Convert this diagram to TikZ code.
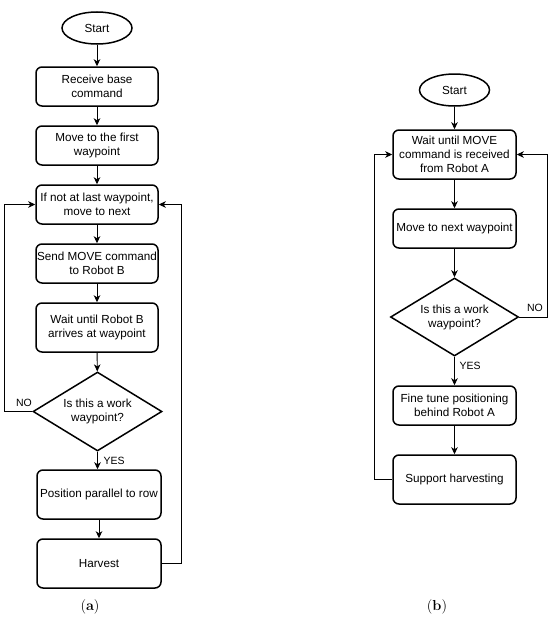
\documentclass[tikz,border=0pt]{standalone}
\usepackage{fontspec}
\setsansfont{Liberation Sans}
\usetikzlibrary{shapes.geometric,arrows.meta}

\begin{document}
\begin{tikzpicture}[x=1pt,y=-1pt,
    every node/.style={font=\sffamily\fontsize{11.7}{14}\selectfont},
    box/.style={draw,rounded corners=6pt,line width=1.5pt,align=center,
      minimum width=122pt,minimum height=39pt,inner sep=1pt},
    tallbox/.style={box,minimum height=49pt},
    startnode/.style={draw,ellipse,line width=1.5pt,minimum width=70pt,
      minimum height=32pt,inner sep=0pt},
    decision/.style={draw,diamond,line width=1.5pt,aspect=1.63,align=center,
      minimum width=129pt,minimum height=79pt,inner sep=0pt},
    arr/.style={-{Stealth[length=7pt,width=6.5pt,inset=2pt]},line width=0.9pt},
    lbl/.style={font=\sffamily\fontsize{10.5}{12}\selectfont},
    subcap/.style={font=\rmfamily\fontsize{14.5}{16}\selectfont}]
  \useasboundingbox (0,0) rectangle (550,621);

  % (a) robot A
  \node[startnode] (sa) at (97,28) {Start};
  \node[box] (a1) at (97,86.5) {Receive base\\command};
  \node[box] (a2) at (97,145.5) {Move to the first\\waypoint};
  \node[box] (a3) at (97,204.5) {If not at last waypoint,\\move to next};
  \node[box] (a4) at (97,263.5) {Send MOVE command\\to Robot B};
  \node[tallbox] (a5) at (97,327.5) {Wait until Robot B\\arrives at waypoint};
  \node[decision] (a6) at (97.5,411.5) {Is this a work\\waypoint?};
  \node[tallbox,minimum width=124pt] (a7) at (99,494.5) {Position parallel to row};
  \node[tallbox,minimum width=124pt] (a8) at (99,563.5) {Harvest};
  \coordinate (aL) at (4,0);
  \coordinate (aR) at (181,0);

  \draw[arr] (sa) -- (a1);
  \draw[arr] (a1) -- (a2);
  \draw[arr] (a2) -- (a3);
  \draw[arr] (a3) -- (a4);
  \draw[arr] (a4) -- (a5);
  \draw[arr] (a5) -- (a6);
  \draw[arr] (a6.south) -- (a6.south |- a7.north);
  \draw[arr] (a7) -- (a8);
  \draw[arr] (a6.west) -- (a6.west -| aL) |- (a3.west);
  \draw[arr] (a8.east) -- (a8.east -| aR) |- (a3.east);
  \node[lbl] (noa) at (24,403) {NO};
  \node[lbl,anchor=west] (yesa) at (100,461) {YES};
  \node[subcap] (capa) at (90,607) {(\textbf{a})};

  % (b) robot B
  \node[startnode] (sb) at (454.5,90) {Start};
  \node[tallbox,minimum width=123pt] (b1) at (454.5,154.5) {Wait until MOVE\\command is received\\from Robot A};
  \node[box,minimum width=123pt] (b2) at (454.5,228.5) {Move to next waypoint};
  \node[decision,minimum width=128pt,minimum height=78pt] (b3) at (454.5,317) {Is this a work\\waypoint?};
  \node[box,minimum width=123pt] (b4) at (454.5,405.5) {Fine tune positioning\\behind Robot A};
  \node[tallbox,minimum width=123pt] (b5) at (454.5,479.5) {Support harvesting};
  \coordinate (bL) at (374,0);
  \coordinate (bR) at (547,0);

  \draw[arr] (sb) -- (b1);
  \draw[arr] (b1) -- (b2);
  \draw[arr] (b2) -- (b3);
  \draw[arr] (b3) -- (b4);
  \draw[arr] (b4) -- (b5);
  \draw[arr] (b5.west) -- (b5.west -| bL) |- (b1.west);
  \draw[arr] (b3.east) -- (b3.east -| bR) |- (b1.east);
  \node[lbl] (nob) at (535,308) {NO};
  \node[lbl,anchor=west] (yesb) at (456,366) {YES};
  \node[subcap] (capb) at (437,607) {(\textbf{b})};
\end{tikzpicture}
\end{document}
